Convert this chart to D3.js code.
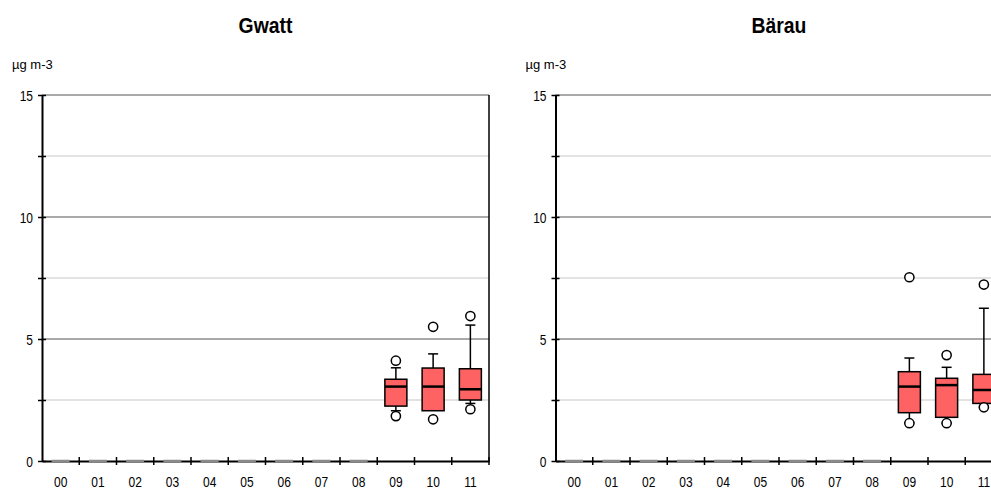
<!DOCTYPE html>
<html>
<head>
<meta charset="utf-8">
<script src="https://cdn.jsdelivr.net/npm/d3@7"></script>
<style>
  html, body { margin: 0; padding: 0; background: #fff; overflow: hidden; }
  svg { display: block; }
  text { font-family: "Liberation Sans", Arial, sans-serif; fill: #000; }
</style>
</head>
<body>
<svg id="chart" width="991" height="490"></svg>
<script>
// Hours of the day along the x axis
const categories = ["00","01","02","03","04","05","06","07","08","09","10","11"];
const yTicks = [0, 5, 10, 15];
const yMinorTicks = [2.5, 7.5, 12.5];
const unitLabel = "µg m-3";

// Gwatt: box-plot statistics per hour
const gwattLow  = [0,0,0,0,0,0,0,0,0,2.06,2.06,2.36];
const gwattQ1   = [0,0,0,0,0,0,0,0,0,2.25,2.06,2.50];
const gwattMed  = [0,0,0,0,0,0,0,0,0,3.05,3.05,2.94];
const gwattQ3   = [0,0,0,0,0,0,0,0,0,3.35,3.81,3.78];
const gwattHigh = [0,0,0,0,0,0,0,0,0,3.82,4.39,5.57];
const gwattOut  = [[],[],[],[],[],[],[],[],[],[4.11,1.84],[5.50,1.71],[5.94,2.12]];

// Bärau: box-plot statistics per hour
const baerauLow  = [0,0,0,0,0,0,0,0,0,1.57,1.55,2.20];
const baerauQ1   = [0,0,0,0,0,0,0,0,0,1.98,1.79,2.36];
const baerauMed  = [0,0,0,0,0,0,0,0,0,3.05,3.11,2.91];
const baerauQ3   = [0,0,0,0,0,0,0,0,0,3.66,3.39,3.55];
const baerauHigh = [0,0,0,0,0,0,0,0,0,4.22,3.84,6.26];
const baerauOut  = [[],[],[],[],[],[],[],[],[],[7.53,1.55],[4.34,1.55],[7.23,2.20]];

function rows(low, q1, med, q3, high, out) {
  return categories.map((c, i) => ({
    cat: c, low: low[i], q1: q1[i], med: med[i], q3: q3[i], high: high[i], out: out[i]
  }));
}

const panels = [
  { title: "Gwatt", left: 42,    data: rows(gwattLow, gwattQ1, gwattMed, gwattQ3, gwattHigh, gwattOut) },
  { title: "Bärau", left: 555.5, data: rows(baerauLow, baerauQ1, baerauMed, baerauQ3, baerauHigh, baerauOut) }
];

const plotW = 447, plotTop = 95, plotBottom = 461;
const digitSqueeze = 0.8;   // tick numerals are set narrow
const svg = d3.select("#chart");

panels.forEach(p => {
  const g = svg.append("g");
  const x = d3.scaleBand().domain(categories).range([p.left, p.left + plotW]);
  const y = d3.scaleLinear().domain([0, 15]).range([plotBottom, plotTop]);

  // horizontal grid
  g.selectAll(".minor").data(yMinorTicks).join("line")
    .attr("x1", p.left).attr("x2", p.left + plotW)
    .attr("y1", d => y(d)).attr("y2", d => y(d))
    .attr("stroke", "#dadada").attr("stroke-width", 1.5);
  g.selectAll(".major").data(yTicks.filter(d => d > 0)).join("line")
    .attr("x1", p.left).attr("x2", p.left + plotW)
    .attr("y1", d => y(d)).attr("y2", d => y(d))
    .attr("stroke", "#8c8c8c").attr("stroke-width", 1.6);

  // right frame edge
  g.append("line")
    .attr("x1", p.left + plotW).attr("x2", p.left + plotW)
    .attr("y1", plotTop).attr("y2", plotBottom)
    .attr("stroke", "#000").attr("stroke-width", 1.5);

  // y axis
  const yAxis = d3.axisLeft(y).tickValues(yTicks.concat(yMinorTicks)).tickSize(0)
    .tickFormat(d => yTicks.includes(d) ? d3.format("d")(d) : "");
  const ya = g.append("g").attr("transform", `translate(${p.left},0)`).call(yAxis);
  ya.select(".domain").attr("stroke", "#000").attr("stroke-width", 2);
  ya.selectAll(".tick line").attr("x1", -4).attr("x2", 4).attr("stroke", "#000").attr("stroke-width", 1.5);
  ya.selectAll(".tick text")
    .attr("x", -9 / digitSqueeze).attr("dy", "0.36em")
    .attr("transform", `scale(${digitSqueeze},1)`)
    .style("font-size", "15px").attr("fill", "#000");

  // x axis: labels centered in bands, ticks at band boundaries
  const xAxis = d3.axisBottom(x).tickSize(0).tickPadding(15);
  const xa = g.append("g").attr("transform", `translate(0,${plotBottom})`).call(xAxis);
  xa.select(".domain").attr("stroke", "#000").attr("stroke-width", 2);
  xa.selectAll(".tick text")
    .attr("transform", `scale(${digitSqueeze},1)`)
    .style("font-size", "15px").attr("fill", "#000");
  const bounds = d3.range(1, categories.length + 1).map(i => p.left + i * x.step());
  xa.selectAll(".bnd").data(bounds).join("line")
    .attr("x1", d => d).attr("x2", d => d).attr("y1", -4).attr("y2", 4)
    .attr("stroke", "#000").attr("stroke-width", 1.5);

  // box plots
  const bw = 22, cap = 10;
  const boxes = g.selectAll(".box").data(p.data).join("g")
    .attr("transform", d => `translate(${x(d.cat) + x.bandwidth() / 2},0)`);

  // hours without data collapse to a grey dash on the baseline
  boxes.filter(d => d.q3 === d.q1 && d.high === d.low).append("line")
    .attr("x1", -bw / 2 + 2).attr("x2", bw / 2 - 2)
    .attr("y1", d => y(d.med)).attr("y2", d => y(d.med))
    .attr("stroke", "#8a8a8a").attr("stroke-width", 2.5);

  const full = boxes.filter(d => !(d.q3 === d.q1 && d.high === d.low));
  full.append("line").attr("x1", 0).attr("x2", 0)
    .attr("y1", d => y(d.high)).attr("y2", d => y(d.q3))
    .attr("stroke", "#000").attr("stroke-width", 1.5);
  full.append("line").attr("x1", 0).attr("x2", 0)
    .attr("y1", d => y(d.q1)).attr("y2", d => y(d.low))
    .attr("stroke", "#000").attr("stroke-width", 1.5);
  full.append("line").attr("x1", -cap / 2).attr("x2", cap / 2)
    .attr("y1", d => y(d.high)).attr("y2", d => y(d.high))
    .attr("stroke", "#000").attr("stroke-width", 1.5);
  full.filter(d => d.low < d.q1).append("line").attr("x1", -cap / 2).attr("x2", cap / 2)
    .attr("y1", d => y(d.low)).attr("y2", d => y(d.low))
    .attr("stroke", "#000").attr("stroke-width", 1.5);
  full.append("rect")
    .attr("x", -bw / 2).attr("width", bw)
    .attr("y", d => y(d.q3)).attr("height", d => y(d.q1) - y(d.q3))
    .attr("fill", "#ff6262").attr("stroke", "#000").attr("stroke-width", 1.5);
  full.append("line").attr("x1", -bw / 2).attr("x2", bw / 2)
    .attr("y1", d => y(d.med)).attr("y2", d => y(d.med))
    .attr("stroke", "#000").attr("stroke-width", 2.5);
  full.selectAll("circle").data(d => d.out).join("circle")
    .attr("cx", 0).attr("cy", d => y(d)).attr("r", 4.6)
    .attr("fill", "#fff").attr("stroke", "#000").attr("stroke-width", 1.5);

  // titles and unit
  const titleSqueeze = 0.88;
  g.append("text")
    .attr("transform", `translate(${p.left + plotW / 2},32.5) scale(${titleSqueeze},1)`)
    .attr("text-anchor", "middle").style("font-size", "22px").style("font-weight", "bold")
    .text(p.title);
  g.append("text").attr("x", p.left - 30).attr("y", 68.5)
    .style("font-size", "13px").text(unitLabel);
});
</script>
</body>
</html>
